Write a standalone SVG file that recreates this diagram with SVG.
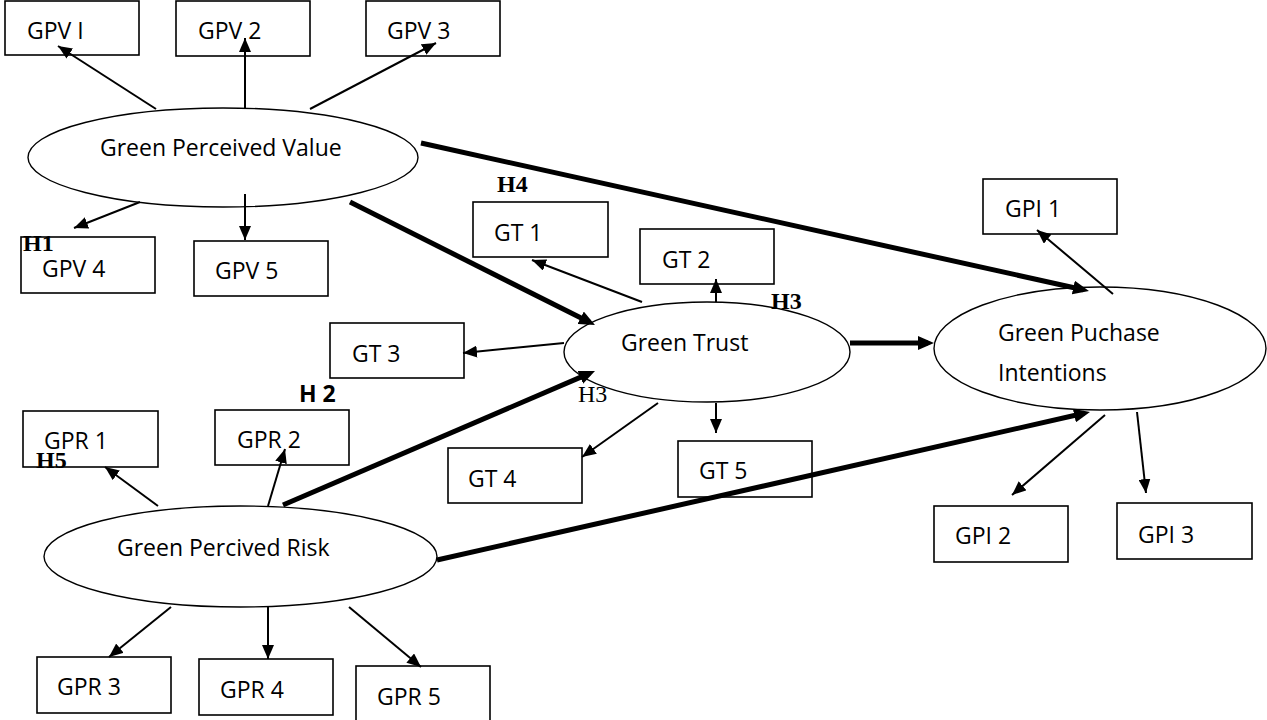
<svg xmlns="http://www.w3.org/2000/svg" width="1267" height="720" viewBox="0 0 1267 720">
<defs>
<style>
.box{fill:#fff;stroke:#000;stroke-width:1.6}
.ell{fill:#fff;stroke:#000;stroke-width:1.4}
.t{font-family:"Open Sans","Noto Sans",sans-serif;font-size:23px;fill:#000}
.thin{stroke:#000;stroke-width:2;fill:none;marker-end:url(#a)}
.thick{stroke:#000;stroke-width:5;fill:none;marker-end:url(#b)}
.hs{font-family:"Liberation Serif","Times New Roman",serif;font-size:24px;font-weight:bold;fill:#000}
.hr{font-family:"Liberation Serif","Times New Roman",serif;font-size:24px;fill:#000}
.hb{font-family:"Open Sans","Noto Sans",sans-serif;font-size:23px;font-weight:bold;fill:#000}
</style>
<marker id="a" markerUnits="userSpaceOnUse" markerWidth="14" markerHeight="12" refX="14" refY="6" orient="auto"><path d="M0,0 L14,6 L0,12 z" fill="#000"/></marker>
<marker id="b" markerUnits="userSpaceOnUse" markerWidth="16" markerHeight="14" refX="10" refY="7" orient="auto"><path d="M0,0 L16,7 L0,14 z" fill="#000"/></marker>
</defs>
<rect width="1267" height="720" fill="#fff"/>

<g id="gpv1"><rect class="box" x="5" y="1" width="134" height="54"/><text class="t" x="27" y="39">GPV I</text></g>
<g id="gpv2"><rect class="box" x="176" y="1" width="134" height="55"/><text class="t" x="198" y="39">GPV 2</text></g>
<g id="gpv3"><rect class="box" x="366" y="1" width="134" height="55"/><text class="t" x="387" y="39">GPV 3</text></g>
<g id="gpv4"><rect class="box" x="21" y="237" width="134" height="56"/><text class="t" x="42" y="277">GPV 4</text></g>
<g id="gpv5"><rect class="box" x="194" y="241" width="134" height="55"/><text class="t" x="215" y="279">GPV 5</text></g>
<g id="gpv"><ellipse class="ell" cx="223" cy="157.5" rx="195" ry="49.5"/><text class="t" x="100" y="156">Green Perceived Value</text></g>

<g id="gt1"><rect class="box" x="473" y="202" width="135" height="55"/><text class="t" x="494" y="241">GT 1</text></g>
<g id="gt2"><rect class="box" x="640" y="229" width="134" height="55"/><text class="t" x="662" y="268">GT 2</text></g>
<g id="gt3"><rect class="box" x="330" y="323" width="134" height="55"/><text class="t" x="352" y="362">GT 3</text></g>
<g id="gt4"><rect class="box" x="448" y="448" width="134" height="55"/><text class="t" x="468" y="487">GT 4</text></g>
<g id="gt5"><rect class="box" x="678" y="441" width="134" height="56"/><text class="t" x="699" y="479">GT 5</text></g>
<g id="gt"><ellipse class="ell" cx="707" cy="352" rx="143" ry="50"/><text class="t" x="621" y="351">Green Trust</text></g>

<g id="gpi1"><rect class="box" x="983" y="179" width="134" height="55"/><text class="t" x="1005" y="217">GPI 1</text></g>
<g id="gpi2"><rect class="box" x="934" y="506" width="134" height="56"/><text class="t" x="955" y="544">GPI 2</text></g>
<g id="gpi3"><rect class="box" x="1117" y="503" width="135" height="56"/><text class="t" x="1138" y="543">GPI 3</text></g>
<g id="gpi"><ellipse class="ell" cx="1100" cy="348.5" rx="166" ry="61.5"/><text class="t" x="998" y="341">Green Puchase</text><text class="t" x="998" y="381">Intentions</text></g>

<g id="gpr1"><rect class="box" x="23" y="411" width="135" height="56"/><text class="t" x="44" y="449">GPR 1</text></g>
<g id="gpr2"><rect class="box" x="215" y="410" width="134" height="55"/><text class="t" x="237" y="448">GPR 2</text></g>
<g id="gpr3"><rect class="box" x="37" y="657" width="134" height="56"/><text class="t" x="57" y="695">GPR 3</text></g>
<g id="gpr4"><rect class="box" x="199" y="659" width="134" height="56"/><text class="t" x="220" y="698">GPR 4</text></g>
<g id="gpr5"><rect class="box" x="356" y="666" width="134" height="58"/><text class="t" x="377" y="705">GPR 5</text></g>
<g id="gpr"><ellipse class="ell" cx="240.5" cy="556.5" rx="196.5" ry="50.5"/><text class="t" x="117" y="556">Green Percived Risk</text></g>

<g id="connectors">
<line class="thin" x1="156" y1="109" x2="58" y2="46"/>
<line class="thin" x1="245" y1="108" x2="245" y2="38"/>
<line class="thin" x1="310" y1="109" x2="436" y2="43"/>
<line class="thin" x1="140" y1="202" x2="74" y2="228"/>
<line class="thin" x1="245" y1="194" x2="245" y2="240"/>
<line class="thin" x1="642" y1="302" x2="532" y2="260"/>
<line class="thin" x1="716" y1="302" x2="716" y2="279"/>
<line class="thin" x1="564" y1="343" x2="463" y2="353"/>
<line class="thin" x1="658" y1="403" x2="582" y2="457"/>
<line class="thin" x1="716" y1="403" x2="716" y2="433"/>
<line class="thin" x1="1113" y1="294" x2="1037" y2="230"/>
<line class="thin" x1="1105" y1="415" x2="1012" y2="495"/>
<line class="thin" x1="1137" y1="412" x2="1146" y2="493"/>
<line class="thin" x1="158" y1="506" x2="105" y2="467"/>
<line class="thin" x1="268" y1="506" x2="285" y2="449"/>
<line class="thin" x1="171" y1="607" x2="109" y2="657"/>
<line class="thin" x1="268" y1="607" x2="268" y2="659"/>
<line class="thin" x1="349" y1="607" x2="421" y2="667"/>
<line class="thick" x1="350" y1="202" x2="589.6" y2="322.3"/>
<line class="thick" x1="421" y1="143" x2="1083.1" y2="289.7"/>
<line class="thick" x1="850" y1="343" x2="928" y2="343"/>
<line class="thick" x1="283" y1="505" x2="589.5" y2="373.4"/>
<line class="thick" x1="437" y1="560" x2="1084.1" y2="413.3"/>
</g>

<g id="labels">
<text class="hs" x="23" y="251">H1</text>
<text class="hs" x="497" y="192">H4</text>
<text class="hs" x="771" y="309">H3</text>
<text class="hr" x="578" y="402">H3</text>
<text class="hb" x="299" y="402">H 2</text>
<text class="hs" x="36" y="468">H5</text>
</g>
</svg>
